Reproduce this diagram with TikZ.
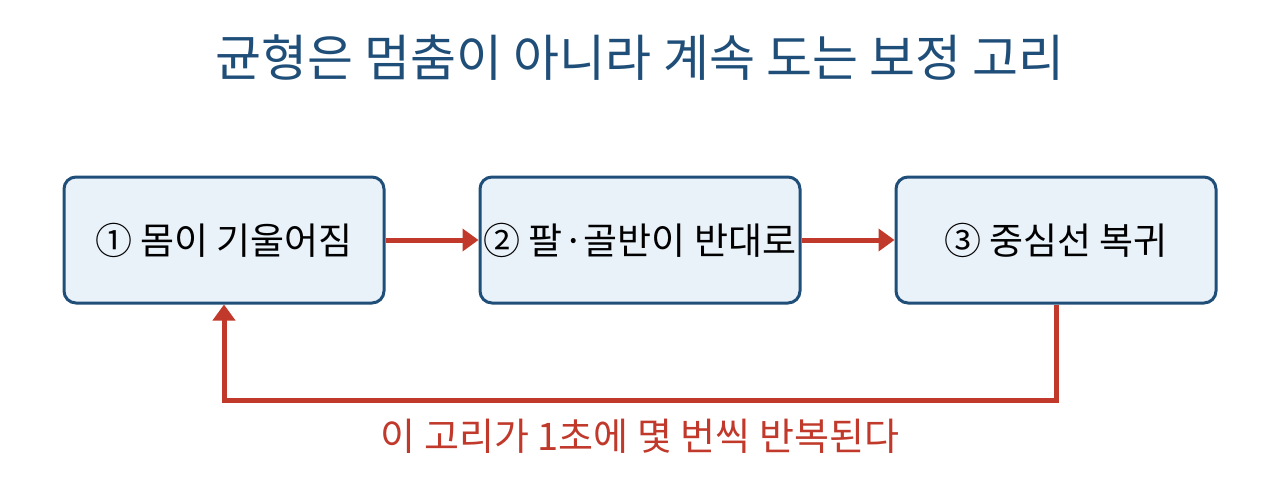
\documentclass[tikz,border=0pt]{standalone}
\usepackage{fontspec}
\setmainfont{Noto Sans CJK KR}
\usetikzlibrary{positioning, arrows.meta}
\definecolor{boxblue}{HTML}{1F4E79}
\definecolor{boxfill}{HTML}{E9F1F9}
\definecolor{loopred}{HTML}{C0392B}
\begin{document}
\begin{tikzpicture}[
  x = 1pt, y = -1pt,
  stage/.style = {draw = boxblue, fill = boxfill, line width = 3pt,
    rounded corners = 12pt, minimum width = 320pt, minimum height = 126pt,
    inner xsep = 0pt, font = \fontsize{37}{42}\selectfont},
  flow/.style = {draw = loopred, line width = 5pt, -{Triangle[length=16pt,width=22pt]}}
  ]
  \useasboundingbox (0,0) rectangle (1280,480);

  % Title
  \node at (640, 58) [name = title, text = boxblue,
    font = \fontsize{50}{56}\selectfont] {균형은 멈춤이 아니라 계속 도는 보정 고리};

  % Nodes
  \node at (224, 240) [stage, name = tilt] {① 몸이 기울어짐};
  \node at (640, 240) [stage, name = counter] {② 팔·골반이 반대로};
  \node at (1056, 240) [stage, name = center] {③ 중심선 복귀};
  \coordinate (low_r) at (1056, 400);
  \coordinate (low_l) at (224, 400);

  % Arrows
  \draw [flow] (tilt) -- (counter);
  \draw [flow] (counter) -- (center);
  \draw [flow] (center.south) -- (low_r) -- (low_l) -- (tilt.south);

  \node at (640, 436) [name = note, text = loopred,
    font = \fontsize{38}{44}\selectfont] {이 고리가 1초에 몇 번씩 반복된다};
\end{tikzpicture}
\end{document}
